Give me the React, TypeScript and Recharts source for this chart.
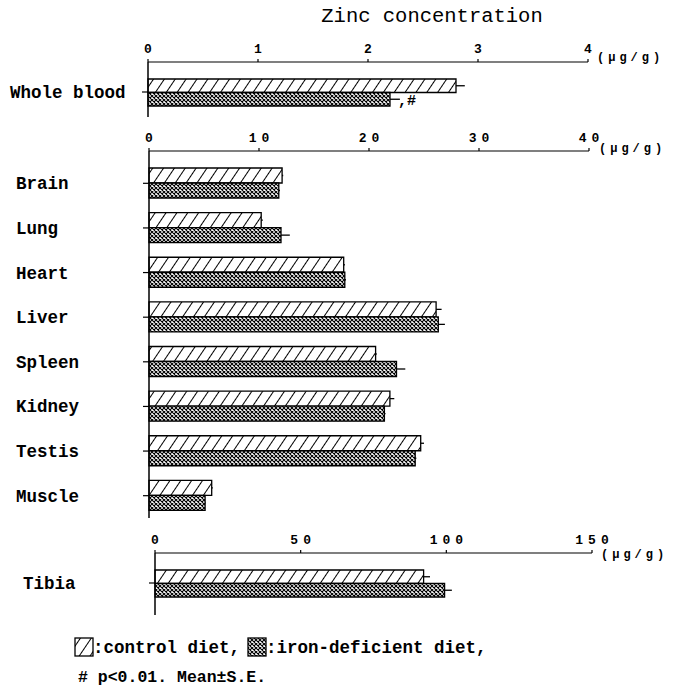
import React from "react";
import { BarChart, Bar, XAxis, YAxis, ErrorBar, LabelList } from "recharts";

// ---- data ----
const bloodCategories = ["Whole blood"];
const bloodControl = [2.8];
const bloodControlSE = [0.08];
const bloodIron = [2.2];
const bloodIronSE = [0.09];
const bloodSignificance = [",#"];
const bloodTicks = [0, 1, 2, 3, 4];

const organCategories = ["Brain", "Lung", "Heart", "Liver", "Spleen", "Kidney", "Testis", "Muscle"];
const organControl = [12.1, 10.2, 17.7, 26.1, 20.6, 21.9, 24.7, 5.7];
const organControlSE = [0.1, 0.15, 0.1, 0.5, 0.1, 0.4, 0.3, 0.1];
const organIron = [11.8, 12.0, 17.8, 26.3, 22.5, 21.4, 24.2, 5.1];
const organIronSE = [0.1, 0.8, 0.1, 0.6, 0.8, 0.1, 0.1, 0.05];
const organTicks = [0, 10, 20, 30, 40];

const tibiaCategories = ["Tibia"];
const tibiaControl = [92.2];
const tibiaControlSE = [2.2];
const tibiaIron = [99.4];
const tibiaIronSE = [2.5];
const tibiaTicks = [0, 50, 100, 150];

const unitLabel = "(μg/g)";
const titleText = "Zinc concentration";

const buildRows = (
  cats: string[],
  ctrl: number[],
  ctrlSE: number[],
  iron: number[],
  ironSE: number[],
  sig?: string[]
) =>
  cats.map((name, i) => ({
    name,
    control: ctrl[i],
    controlErr: [0, ctrlSE[i]],
    iron: iron[i],
    ironErr: [0, ironSE[i]],
    sig: sig ? sig[i] : "",
  }));

const bloodRows = buildRows(bloodCategories, bloodControl, bloodControlSE, bloodIron, bloodIronSE, bloodSignificance);
const organRows = buildRows(organCategories, organControl, organControlSE, organIron, organIronSE);
const tibiaRows = buildRows(tibiaCategories, tibiaControl, tibiaControlSE, tibiaIron, tibiaIronSE);

const MONO = "'Liberation Mono', 'Courier New', monospace";

const XTick = (props: any) => {
  const { x, y, payload } = props;
  const s = String(payload.value);
  const ls = s.length > 1 ? 5 : 0;
  return (
    <text
      x={x + ls / 2}
      y={y}
      dy={-4}
      textAnchor="middle"
      fontFamily={MONO}
      fontWeight="bold"
      fontSize={13}
      letterSpacing={ls}
      fill="#000"
    >
      {s}
    </text>
  );
};

const makeYTick = (labelX: number) => (props: any) => {
  const { y, payload } = props;
  return (
    <text
      x={labelX}
      y={y}
      dy={6}
      textAnchor="start"
      fontFamily={MONO}
      fontWeight="bold"
      fontSize={17.5}
      fill="#000"
    >
      {payload.value}
    </text>
  );
};

const renderSig = (props: any) => {
  const { x, y, width, height, value } = props;
  if (!value) return null;
  return (
    <text
      x={x + width + 8}
      y={y + height / 2 + 6}
      fontFamily={MONO}
      fontWeight="bold"
      fontSize={15}
      fill="#000"
    >
      {value}
    </text>
  );
};

type PanelProps = {
  rows: any[];
  ticks: number[];
  top: number;
  height: number;
  marginTop: number;
  marginBottom: number;
  axisLeft: number;
  axisRight: number;
  padTop: number;
  padBottom: number;
  labelX: number;
};

const Panel = ({ rows, ticks, top, height, marginTop, marginBottom, axisLeft, axisRight, padTop, padBottom, labelX }: PanelProps) => (
  <div style={{ position: "absolute", left: 0, top, width: 674, height }}>
    <BarChart
      width={674}
      height={height}
      data={rows}
      layout="vertical"
      margin={{ top: marginTop, bottom: marginBottom, left: 0, right: 674 - axisRight }}
      barGap={0}
      barCategoryGap={0}
    >
      <XAxis
        type="number"
        orientation="top"
        domain={[ticks[0], ticks[ticks.length - 1]]}
        ticks={ticks}
        height={30}
        tick={<XTick />}
        tickSize={3}
        axisLine={{ stroke: "#000", strokeWidth: 1.2 }}
        tickLine={{ stroke: "#000", strokeWidth: 1.2 }}
        interval={0}
      />
      <YAxis
        type="category"
        dataKey="name"
        width={axisLeft}
        padding={{ top: padTop, bottom: padBottom }}
        tick={makeYTick(labelX)}
        tickSize={6}
        axisLine={{ stroke: "#000", strokeWidth: 1.5 }}
        tickLine={{ stroke: "#000", strokeWidth: 1.2 }}
        interval={0}
      />
      <Bar dataKey="control" fill="url(#diagHatch)" stroke="#000" strokeWidth={1.3} barSize={15} isAnimationActive={false}>
        <ErrorBar dataKey="controlErr" direction="x" width={0} stroke="#000" strokeWidth={1.3} />
      </Bar>
      <Bar dataKey="iron" fill="url(#crossHatch)" stroke="#000" strokeWidth={1.3} barSize={15} isAnimationActive={false}>
        <ErrorBar dataKey="ironErr" direction="x" width={0} stroke="#000" strokeWidth={1.3} />
        <LabelList dataKey="sig" content={renderSig} />
      </Bar>
    </BarChart>
  </div>
);

const Patterns = () => (
  <svg width={0} height={0} style={{ position: "absolute" }}>
    <defs>
      <pattern id="diagHatch" patternUnits="userSpaceOnUse" width={9} height={12} patternTransform="rotate(34)">
        <rect width={9} height={12} fill="#fff" />
        <line x1={0} y1={0} x2={0} y2={12} stroke="#000" strokeWidth={2} />
      </pattern>
      <pattern id="crossHatch" patternUnits="userSpaceOnUse" width={4} height={4}>
        <rect width={4} height={4} fill="#fff" />
        <path d="M0,0 L4,4 M4,0 L0,4" stroke="#000" strokeWidth={1.1} />
      </pattern>
    </defs>
  </svg>
);

export default function App() {
  return (
    <div style={{ position: "absolute", left: 0, top: 0, width: 674, height: 689, background: "#fff", overflow: "hidden" }}>
      <Patterns />
      <Panel rows={bloodRows} ticks={bloodTicks} top={0} height={125} marginTop={32} marginBottom={8}
        axisLeft={148} axisRight={588} padTop={15} padBottom={10} labelX={10} />
      <Panel rows={organRows} ticks={organTicks} top={120} height={410} marginTop={1} marginBottom={12}
        axisLeft={149} axisRight={589} padTop={10} padBottom={0} labelX={16} />
      <Panel rows={tibiaRows} ticks={tibiaTicks} top={510} height={110} marginTop={13} marginBottom={5}
        axisLeft={155} axisRight={592} padTop={15} padBottom={17} labelX={23} />
      <svg width={674} height={689} style={{ position: "absolute", left: 0, top: 0, pointerEvents: "none" }}>
        <text x={432} y={22} textAnchor="middle" fontFamily={MONO} fontSize={20.5} fill="#000">{titleText}</text>
        <text x={597} y={61} fontFamily={MONO} fontWeight="bold" fontSize={12} letterSpacing={4} fill="#000">{unitLabel}</text>
        <text x={599} y={152} fontFamily={MONO} fontWeight="bold" fontSize={12} letterSpacing={4} fill="#000">{unitLabel}</text>
        <text x={601} y={558} fontFamily={MONO} fontWeight="bold" fontSize={12} letterSpacing={4} fill="#000">{unitLabel}</text>
        <rect x={75} y={638} width={18} height={18} fill="url(#diagHatch)" stroke="#000" strokeWidth={1.3} />
        <text x={93} y={653} fontFamily={MONO} fontWeight="bold" fontSize={17.5} fill="#000">:control diet,</text>
        <rect x={248} y={638} width={18} height={18} fill="url(#crossHatch)" stroke="#000" strokeWidth={1.3} />
        <text x={266} y={653} fontFamily={MONO} fontWeight="bold" fontSize={17.5} fill="#000">:iron-deficient diet,</text>
        <text x={78} y={682} fontFamily={MONO} fontWeight="bold" fontSize={16.5} fill="#000"># p&lt;0.01. Mean±S.E.</text>
      </svg>
    </div>
  );
}
